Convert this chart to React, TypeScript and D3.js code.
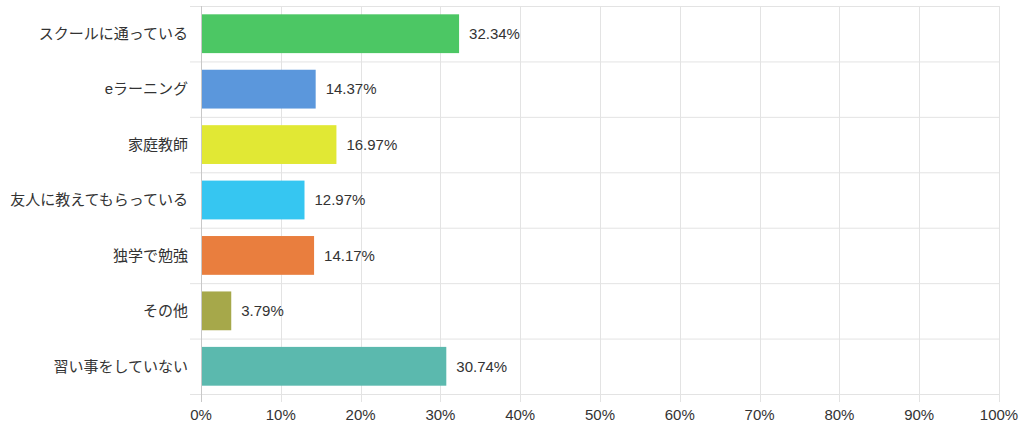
import * as d3 from 'd3';
import { useEffect, useRef } from 'react';

const categories = [
    'スクールに通っている',
    'eラーニング',
    '家庭教師',
    '友人に教えてもらっている',
    '独学で勉強',
    'その他',
    '習い事をしていない',
];
const values = [32.34, 14.37, 16.97, 12.97, 14.17, 3.79, 30.74];
const colors = ['#4cc764', '#5b97dc', '#e1e834', '#36c6f1', '#e97e3e', '#a6a84a', '#5bb9ae'];
const xTicks = [0, 10, 20, 30, 40, 50, 60, 70, 80, 90, 100];

const W = 1024;
const H = 428;

const App: React.FC = () => {
    const svgRef = useRef<SVGSVGElement>(null);

    useEffect(() => {
        document.body.style.margin = '0';
        const svg = d3.select(svgRef.current);
        svg.selectAll('*').remove();

        // Margins
        const margin = { top: 6, right: 25, bottom: 34, left: 201 };
        const font = "Arial, 'Liberation Sans', 'Noto Sans CJK JP', sans-serif";

        // Scales
        const xScale = d3
            .scaleLinear()
            .domain([0, 100])
            .range([margin.left, W - margin.right]);

        const yScale = d3
            .scaleBand()
            .domain(categories)
            .range([margin.top, H - margin.bottom])
            .paddingInner(0.3)
            .paddingOuter(0.15);

        const step = yScale.step();
        const bandTop = (i: number) => margin.top + i * step;

        // Grid
        const grid = svg.append('g');
        grid.selectAll('.hline')
            .data(d3.range(categories.length + 1))
            .enter()
            .append('line')
            .attr('x1', margin.left - 11)
            .attr('x2', xScale(100))
            .attr('y1', (i) => bandTop(i) + 0.5)
            .attr('y2', (i) => bandTop(i) + 0.5)
            .attr('stroke', '#e3e3e3')
            .attr('stroke-width', 1);

        grid.selectAll('.vline')
            .data(xTicks)
            .enter()
            .append('line')
            .attr('x1', (d) => Math.round(xScale(d)) + 0.5)
            .attr('x2', (d) => Math.round(xScale(d)) + 0.5)
            .attr('y1', margin.top)
            .attr('y2', H - margin.bottom + 8)
            .attr('stroke', (d) => (d === 0 ? '#c8c8c8' : '#e3e3e3'))
            .attr('stroke-width', 1);

        // Bars
        svg.selectAll('.bar')
            .data(values)
            .enter()
            .append('rect')
            .attr('x', xScale(0) + 1)
            .attr('y', (_, i) => yScale(categories[i]) || 0)
            .attr('width', (d) => xScale(d) - xScale(0) - 1)
            .attr('height', yScale.bandwidth())
            .attr('fill', (_, i) => colors[i]);

        // Value labels
        svg.selectAll('.val')
            .data(values)
            .enter()
            .append('text')
            .attr('x', (d) => xScale(d) + 10)
            .attr('y', (_, i) => (yScale(categories[i]) || 0) + yScale.bandwidth() / 2)
            .attr('dy', '0.35em')
            .attr('font-family', font)
            .attr('font-size', 15)
            .attr('fill', '#333')
            .text((d) => d.toFixed(2) + '%');

        // Category labels
        svg.selectAll('.cat')
            .data(categories)
            .enter()
            .append('text')
            .attr('x', margin.left - 13)
            .attr('y', (d) => (yScale(d) || 0) + yScale.bandwidth() / 2)
            .attr('dy', '0.35em')
            .attr('text-anchor', 'end')
            .attr('font-family', font)
            .attr('font-size', 15)
            .attr('fill', '#333')
            .text((d) => d);

        // X tick labels
        svg.selectAll('.tick')
            .data(xTicks)
            .enter()
            .append('text')
            .attr('x', (d) => xScale(d))
            .attr('y', H - margin.bottom + 21)
            .attr('dy', '0.35em')
            .attr('text-anchor', 'middle')
            .attr('font-family', font)
            .attr('font-size', 15)
            .attr('fill', '#333')
            .text((d) => d + '%');
    }, []);

    return (
        <svg
            ref={svgRef}
            width={W}
            height={H}
            style={{ position: 'absolute', left: 0, top: 0, background: '#fff' }}
        ></svg>
    );
};

export default App;
